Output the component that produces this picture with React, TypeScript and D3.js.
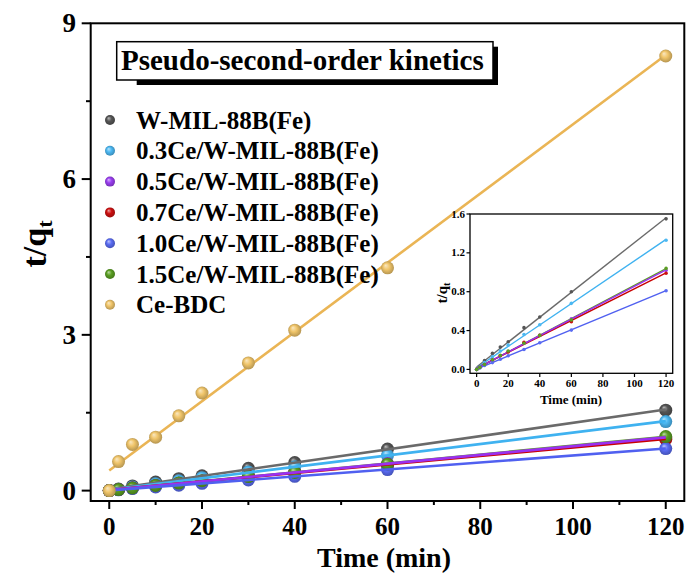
import React from 'react';
import * as d3 from 'd3';

const times = [0, 2, 5, 10, 15, 20, 30, 40, 60, 120];
const seriesNames = [
  'W-MIL-88B(Fe)',
  '0.3Ce/W-MIL-88B(Fe)',
  '0.5Ce/W-MIL-88B(Fe)',
  '0.7Ce/W-MIL-88B(Fe)',
  '1.0Ce/W-MIL-88B(Fe)',
  '1.5Ce/W-MIL-88B(Fe)',
  'Ce-BDC',
];
const wMil = [0, 0.03, 0.09, 0.165, 0.23, 0.285, 0.43, 0.54, 0.8, 1.55];
const ce03 = [0, 0.025, 0.07, 0.13, 0.19, 0.25, 0.36, 0.46, 0.68, 1.33];
const ce05 = [0, 0.02, 0.05, 0.1, 0.14, 0.185, 0.27, 0.35, 0.52, 1.02];
const ce07 = [0, 0.02, 0.05, 0.095, 0.14, 0.18, 0.28, 0.35, 0.49, 0.99];
const ce10 = [0, 0.015, 0.04, 0.07, 0.105, 0.14, 0.205, 0.275, 0.405, 0.81];
const ce15 = [0, 0.02, 0.05, 0.1, 0.145, 0.19, 0.27, 0.35, 0.51, 1.04];
const ceBdc = [0, 0.56, 0.89, 1.03, 1.44, 1.88, 2.46, 3.09, 4.29, 8.37];
const seriesValues = [wMil, ce03, ce05, ce07, ce10, ce15, ceBdc];
const markerColors = ['#555555', '#4cb8f2', '#9a3ef0', '#cc1010', '#5a6cf2', '#5a9e22', '#f0c56a'];
const lineColors = ['#6a6a6a', '#3fb2f0', '#9a30f0', '#c80000', '#5060f0', '#5a9e22', '#eab555'];

const xTicks = [0, 20, 40, 60, 80, 100, 120];
const xMinor = [10, 30, 50, 70, 90, 110];
const yTicks = [0, 3, 6, 9];
const yMinor = [1.5, 4.5, 7.5];
const insetYTicks = [0.0, 0.4, 0.8, 1.2, 1.6];

const FONT = '"Liberation Serif", "Times New Roman", serif';

function linFit(xs: number[], ys: number[]) {
  const mx = d3.mean(xs) as number;
  const my = d3.mean(ys) as number;
  let sxy = 0, sxx = 0;
  xs.forEach((x, i) => { sxy += (x - mx) * (ys[i] - my); sxx += (x - mx) * (x - mx); });
  const b = sxy / sxx;
  return { b, a: my - b * mx };
}

export default function App() {
  const W = 691, H = 575;
  const x = d3.scaleLinear().domain([-4, 124]).range([90.7, 684.3]);
  const y = d3.scaleLinear().domain([-0.2, 9]).range([501, 23.3]);
  const ix = d3.scaleLinear().domain([-4.2, 124.2]).range([470, 672.7]);
  const iy = d3.scaleLinear().domain([-0.04, 1.6]).range([373.3, 214]);

  const fits = seriesValues.map((v) => linFit(times, v));
  const tMin = d3.min(times) as number;
  const tMax = d3.max(times) as number;
  const fitLine = (i: number, sx: any, sy: any) => {
    const f = fits[i];
    return d3.line<number>().x((t) => sx(t)).y((t) => sy(f.a + f.b * t))([tMin, tMax]) as string;
  };

  const lineOrder = [0, 1, 5, 3, 2, 4];
  const legendY0 = 120;
  const legendDy = 30.8;

  return (
    <svg width={W} height={H} style={{ position: 'absolute', left: 0, top: 0, background: '#fff' }} fontFamily={FONT}>
      <defs>
        {markerColors.map((c, i) => (
          <radialGradient key={i} id={`sph${i}`} cx="0.5" cy="0.5" r="0.55" fx="0.35" fy="0.3">
            <stop offset="0%" stopColor={d3.interpolateRgb(c, '#ffffff')(0.6)} />
            <stop offset="45%" stopColor={c} />
            <stop offset="100%" stopColor={d3.color(c)!.darker(0.9).formatHex()} />
          </radialGradient>
        ))}
      </defs>
      <rect x={0} y={0} width={W} height={H} fill="#fff" />

      {[0, 1, 2, 3, 4, 5].map((si) => (
        <g key={`p${si}`}>
          {times.map((t, k) => (
            <circle key={k} cx={x(t)} cy={y(seriesValues[si][k])} r={6.5} fill={`url(#sph${si})`} />
          ))}
        </g>
      ))}
      {lineOrder.map((si) => (
        <path key={`l${si}`} d={fitLine(si, x, y)} fill="none" stroke={lineColors[si]} strokeWidth={2.6} />
      ))}
      <path d={fitLine(6, x, y)} fill="none" stroke={lineColors[6]} strokeWidth={2.6} />
      {times.map((t, k) => (
        <circle key={`y${k}`} cx={x(t)} cy={y(ceBdc[k])} r={6.5} fill="url(#sph6)" />
      ))}

      <rect x={90.7} y={23.3} width={684.3 - 90.7} height={501 - 23.3} fill="none" stroke="#000" strokeWidth={2} />
      {xTicks.map((t) => (
        <g key={`xt${t}`}>
          <line x1={x(t)} x2={x(t)} y1={501} y2={509} stroke="#000" strokeWidth={2} />
          <text x={x(t)} y={535} textAnchor="middle" fontSize={25} fontWeight="bold">{t}</text>
        </g>
      ))}
      {xMinor.map((t) => (
        <line key={`xm${t}`} x1={x(t)} x2={x(t)} y1={501} y2={505} stroke="#000" strokeWidth={2} />
      ))}
      {yTicks.map((v) => (
        <g key={`yt${v}`}>
          <line x1={81.7} x2={90.7} y1={y(v)} y2={y(v)} stroke="#000" strokeWidth={2} />
          <text x={76} y={y(v) + 9} textAnchor="end" fontSize={27} fontWeight="bold">{v}</text>
        </g>
      ))}
      {yMinor.map((v) => (
        <line key={`ym${v}`} x1={86} x2={90.7} y1={y(v)} y2={y(v)} stroke="#000" strokeWidth={2} />
      ))}
      <text x={384} y={567} textAnchor="middle" fontSize={28} fontWeight="bold">Time (min)</text>
      <text transform="translate(46,244) rotate(-90)" textAnchor="middle" fontSize={34} fontWeight="bold">
        t/q<tspan fontSize={22} dy={6}>t</tspan>
      </text>

      <rect x={136.7} y={46.7} width={493 - 131.7} height={80 - 41.7} fill="#000" />
      <rect x={116.7} y={41.7} width={493 - 116.7} height={80 - 41.7} fill="#fff" stroke="#000" strokeWidth={1.5} />
      <text x={121} y={69.5} fontSize={29} fontWeight="bold">Pseudo-second-order kinetics</text>

      {seriesNames.map((n, i) => (
        <g key={`lg${i}`}>
          <circle cx={110} cy={legendY0 + i * legendDy} r={5} fill={`url(#sph${i})`} />
          <text x={136} y={legendY0 + i * legendDy + 8.5} fontSize={25} fontWeight="bold">{n}</text>
        </g>
      ))}

      <rect x={470} y={214} width={672.7 - 470} height={373.3 - 214} fill="#fff" />
      {lineOrder.map((si) => (
        <path key={`il${si}`} d={fitLine(si, ix, iy)} fill="none" stroke={lineColors[si]} strokeWidth={1.4} />
      ))}
      {[0, 1, 2, 3, 4, 5].map((si) => (
        <g key={`ip${si}`}>
          {times.map((t, k) => (
            <circle key={k} cx={ix(t)} cy={iy(seriesValues[si][k])} r={1.8} fill={markerColors[si]} />
          ))}
        </g>
      ))}
      <rect x={470} y={214} width={672.7 - 470} height={373.3 - 214} fill="none" stroke="#000" strokeWidth={1.3} />
      {xTicks.map((t) => (
        <g key={`ixt${t}`}>
          <line x1={ix(t)} x2={ix(t)} y1={373.3} y2={377} stroke="#000" strokeWidth={1.2} />
          <text x={ix(t)} y={387} textAnchor="middle" fontSize={11} fontWeight="bold">{t}</text>
        </g>
      ))}
      {insetYTicks.map((v) => (
        <g key={`iyt${v}`}>
          <line x1={466.5} x2={470} y1={iy(v)} y2={iy(v)} stroke="#000" strokeWidth={1.2} />
          <text x={465} y={iy(v) + 3.5} textAnchor="end" fontSize={11} fontWeight="bold">{v.toFixed(1)}</text>
        </g>
      ))}
      <text x={571} y={404} textAnchor="middle" fontSize={13} fontWeight="bold">Time (min)</text>
      <text transform="translate(447,293) rotate(-90)" textAnchor="middle" fontSize={15} fontWeight="bold">
        t/q<tspan fontSize={10} dy={3}>t</tspan>
      </text>
    </svg>
  );
}
